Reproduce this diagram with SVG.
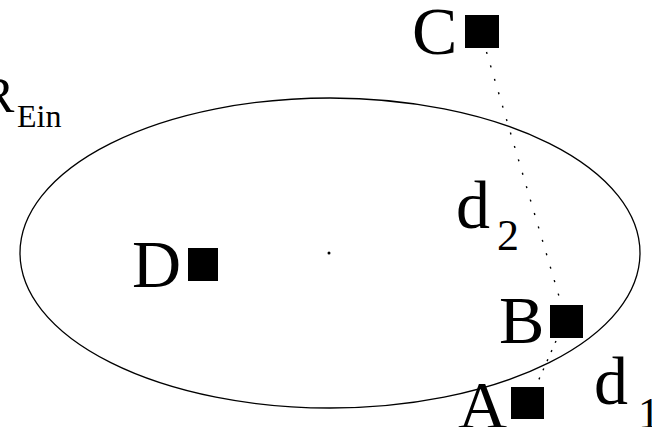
<svg xmlns="http://www.w3.org/2000/svg" width="652" height="427" viewBox="0 0 652 427">
<style>
.lbl{font-family:"Liberation Serif","DejaVu Serif",serif;fill:#000;}
.big{font-size:68px;}
.sub{font-size:44px;}
.sq{fill:#000;}
.dot{stroke:#000;stroke-width:1.4;fill:none;stroke-dasharray:2 12;}
</style>
<rect width="652" height="427" fill="#fff"/>
<g id="region">
<ellipse cx="330" cy="253" rx="310" ry="155" fill="none" stroke="#000" stroke-width="1.3"/>
<circle cx="329" cy="253" r="1.5" fill="#000"/>
<text class="lbl" x="-19" y="112" font-size="50">R</text>
<text class="lbl" x="17" y="127" font-size="32">Ein</text>
</g>
<g id="connectors">
<line class="dot" x1="486.5" y1="52" x2="561" y2="303"/>
<line class="dot" x1="556" y1="341" x2="536" y2="386" style="stroke-dasharray:2 8"/>
<text class="lbl big" x="456" y="228">d</text>
<text class="lbl sub" x="497" y="250">2</text>
<text class="lbl big" x="594" y="404">d</text>
<text class="lbl sub" x="638" y="428">1</text>
</g>
<g id="nodeC">
<rect class="sq" x="465" y="15" width="34" height="33"/>
<text class="lbl big" x="412" y="54">C</text>
</g>
<g id="nodeD">
<rect class="sq" x="188" y="248" width="30" height="33"/>
<text class="lbl big" x="132" y="287">D</text>
</g>
<g id="nodeB">
<rect class="sq" x="550" y="305" width="33" height="33"/>
<text class="lbl big" x="499" y="343">B</text>
</g>
<g id="nodeA">
<rect class="sq" x="511" y="387" width="33" height="32"/>
<text class="lbl big" x="458" y="428">A</text>
</g>
</svg>
